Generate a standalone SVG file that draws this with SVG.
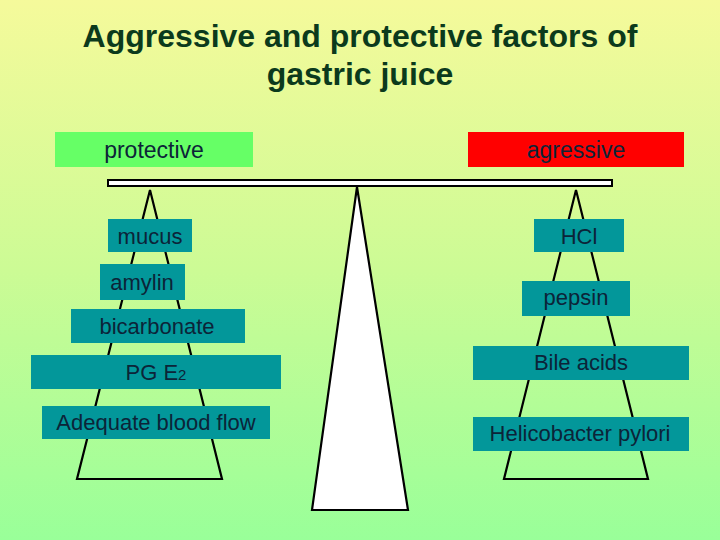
<svg xmlns="http://www.w3.org/2000/svg" width="720" height="540" viewBox="0 0 720 540">
<defs>
<linearGradient id="bg" x1="0" y1="0" x2="0" y2="1">
<stop offset="0" stop-color="#f5fa9b"/>
<stop offset="0.5" stop-color="#ccfb95"/>
<stop offset="1" stop-color="#99ff99"/>
</linearGradient>
</defs>
<style>
.t{font-family:"Liberation Sans",Arial,sans-serif;font-size:22px;fill:#0c2438;text-anchor:middle}
.h{font-size:23px}
.title{font-family:"Liberation Sans",Arial,sans-serif;font-size:32px;font-weight:bold;fill:#0b3a1c;text-anchor:middle}
.box{fill:#03979a}
.ln{fill:none;stroke:#000;stroke-width:2.2;stroke-linejoin:miter}
</style>
<rect width="720" height="540" fill="url(#bg)"/>
<g id="title">
<text class="title" x="360" y="47">Aggressive and protective factors of</text>
<text class="title" x="360" y="85">gastric juice</text>
</g>
<g id="connectors">
<polygon class="ln" points="150,190 77,479 222,479"/>
<polygon class="ln" points="576,190 504,479 648,479"/>
</g>
<g id="fulcrum"><polygon points="357,187 312,510 408,510" fill="#fff" stroke="#000" stroke-width="2.2"/></g>
<g id="beam"><rect x="108" y="180" width="504" height="6" fill="#fff" stroke="#000" stroke-width="2"/></g>
<g id="protective"><rect x="55" y="132" width="198" height="35" fill="#66ff66"/><text class="t h" x="154" y="158">protective</text></g>
<g id="agressive"><rect x="468" y="132" width="216" height="35" fill="#ff0000"/><text class="t h" x="576" y="158">agressive</text></g>
<g id="mucus"><rect class="box" x="108" y="219" width="84" height="33"/><text class="t" x="150" y="244">mucus</text></g>
<g id="amylin"><rect class="box" x="100" y="264" width="85" height="36"/><text class="t" x="142" y="290">amylin</text></g>
<g id="bicarbonate"><rect class="box" x="71" y="309" width="174" height="34"/><text class="t" x="157" y="334">bicarbonate</text></g>
<g id="pge2"><rect class="box" x="31" y="355" width="250" height="34"/><text class="t" x="156" y="380">PG E<tspan font-size="15">2</tspan></text></g>
<g id="bloodflow"><rect class="box" x="42" y="406" width="228" height="33"/><text class="t" x="156" y="430">Adequate blood flow</text></g>
<g id="hcl"><rect class="box" x="534" y="219" width="90" height="33"/><text class="t" x="579" y="244">HCl</text></g>
<g id="pepsin"><rect class="box" x="522" y="281" width="108" height="35"/><text class="t" x="576" y="305">pepsin</text></g>
<g id="bile"><rect class="box" x="473" y="346" width="216" height="34"/><text class="t" x="581" y="370">Bile acids</text></g>
<g id="hp"><rect class="box" x="473" y="417" width="216" height="34"/><text class="t" x="580" y="441">Helicobacter pylori</text></g>
</svg>
